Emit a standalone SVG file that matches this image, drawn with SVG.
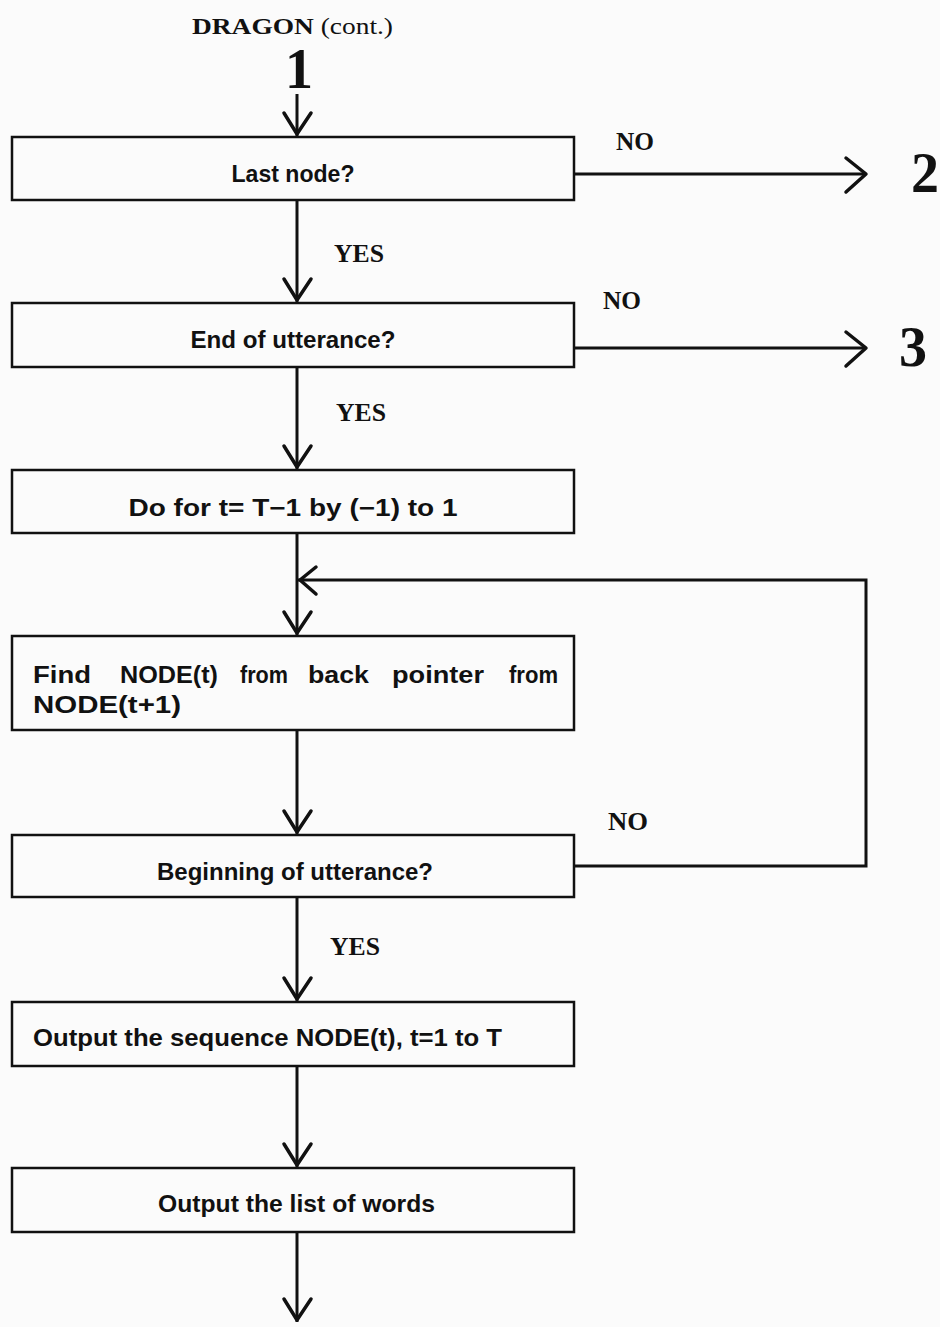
<svg xmlns="http://www.w3.org/2000/svg" width="940" height="1327" viewBox="0 0 940 1327">
<style>
.box{fill:none;stroke:#111;stroke-width:2.5}
.ln{fill:none;stroke:#111;stroke-width:3}
.hd{fill:none;stroke:#111;stroke-width:3.5;stroke-linecap:round;stroke-linejoin:round}
.bt{font-family:"Liberation Sans",Arial,sans-serif;font-weight:bold;font-size:24px;fill:#111}
.lb{font-family:"Liberation Serif","Times New Roman",serif;font-weight:bold;font-size:26px;fill:#111}
.num{font-family:"Liberation Serif","Times New Roman",serif;font-weight:bold;font-size:56px;fill:#111}
</style>
<rect width="940" height="1327" fill="#fbfbfb"/>
<g id="title">
<text x="192" y="34" font-family="Liberation Serif, Times New Roman, serif" font-size="23" fill="#111" textLength="201" lengthAdjust="spacingAndGlyphs"><tspan font-weight="bold">DRAGON</tspan> (cont.)</text>
</g>
<g id="connector-1"><text class="num" x="299" y="88" text-anchor="middle">1</text></g>
<g id="connector-2"><text class="num" x="925" y="192" text-anchor="middle" font-size="52">2</text></g>
<g id="connector-3"><text class="num" x="913" y="366" text-anchor="middle" font-size="52">3</text></g>

<g id="n1"><rect class="box" x="12" y="137" width="562" height="63"/><text class="bt" x="293" y="182" text-anchor="middle" textLength="123" lengthAdjust="spacingAndGlyphs">Last node?</text></g>
<g id="n2"><rect class="box" x="12" y="303" width="562" height="64"/><text class="bt" x="293" y="348" text-anchor="middle" textLength="205" lengthAdjust="spacingAndGlyphs">End of utterance?</text></g>
<g id="n3"><rect class="box" x="12" y="470" width="562" height="63"/><text class="bt" x="293" y="516" text-anchor="middle" textLength="329" lengthAdjust="spacingAndGlyphs">Do for t= T−1 by (−1) to 1</text></g>
<g id="n4"><rect class="box" x="12" y="636" width="562" height="94"/>
<text class="bt" y="683"><tspan x="33" textLength="58" lengthAdjust="spacingAndGlyphs">Find</tspan><tspan x="120" textLength="98" lengthAdjust="spacingAndGlyphs">NODE(t)</tspan><tspan x="240" textLength="48" lengthAdjust="spacingAndGlyphs">from</tspan><tspan x="308" textLength="61" lengthAdjust="spacingAndGlyphs">back</tspan><tspan x="392" textLength="92" lengthAdjust="spacingAndGlyphs">pointer</tspan><tspan x="509" textLength="49" lengthAdjust="spacingAndGlyphs">from</tspan></text>
<text class="bt" x="33" y="713" textLength="148" lengthAdjust="spacingAndGlyphs">NODE(t+1)</text></g>
<g id="n5"><rect class="box" x="12" y="835" width="562" height="62"/><text class="bt" x="295" y="880" text-anchor="middle" textLength="276" lengthAdjust="spacingAndGlyphs">Beginning of utterance?</text></g>
<g id="n6"><rect class="box" x="12" y="1002" width="562" height="64"/><text class="bt" x="33" y="1046" textLength="469" lengthAdjust="spacingAndGlyphs">Output the sequence NODE(t), t=1 to T</text></g>
<g id="n7"><rect class="box" x="12" y="1168" width="562" height="64"/><text class="bt" x="158" y="1212" textLength="277" lengthAdjust="spacingAndGlyphs">Output the list of words</text></g>

<g id="connectors">
<line class="ln" x1="297" y1="94" x2="297" y2="136"/>
<polyline class="hd" points="284,113 297,134 311,113"/>
<line class="ln" x1="297" y1="200" x2="297" y2="302"/>
<polyline class="hd" points="284,279 297,300 311,279"/>
<line class="ln" x1="297" y1="367" x2="297" y2="469"/>
<polyline class="hd" points="284,446 297,467 311,446"/>
<line class="ln" x1="297" y1="533" x2="297" y2="635"/>
<polyline class="hd" points="284,612 297,633 311,612"/>
<line class="ln" x1="297" y1="730" x2="297" y2="834"/>
<polyline class="hd" points="284,811 297,832 311,811"/>
<line class="ln" x1="297" y1="897" x2="297" y2="1001"/>
<polyline class="hd" points="284,978 297,999 311,978"/>
<line class="ln" x1="297" y1="1066" x2="297" y2="1167"/>
<polyline class="hd" points="284,1144 297,1165 311,1144"/>
<line class="ln" x1="297" y1="1232" x2="297" y2="1322"/>
<polyline class="hd" points="284,1299 297,1320 311,1299"/>
<line class="ln" x1="574" y1="174" x2="866" y2="174"/>
<polyline class="hd" points="846,158 866,174 846,192"/>
<text class="lb" x="635" y="150" text-anchor="middle" textLength="38" lengthAdjust="spacingAndGlyphs">NO</text>
<line class="ln" x1="574" y1="348" x2="866" y2="348"/>
<polyline class="hd" points="846,332 866,348 846,366"/>
<text class="lb" x="622" y="309" text-anchor="middle" textLength="38" lengthAdjust="spacingAndGlyphs">NO</text>
<polyline class="ln" points="574,866 866,866 866,580 297,580"/>
<polyline class="hd" points="316,567 300,580 316,594"/>
<text class="lb" x="628" y="830" text-anchor="middle" textLength="40" lengthAdjust="spacingAndGlyphs">NO</text>
<text class="lb" x="359" y="262" text-anchor="middle" textLength="50" lengthAdjust="spacingAndGlyphs">YES</text>
<text class="lb" x="361" y="421" text-anchor="middle" textLength="50" lengthAdjust="spacingAndGlyphs">YES</text>
<text class="lb" x="355" y="955" text-anchor="middle" textLength="50" lengthAdjust="spacingAndGlyphs">YES</text>
</g>
</svg>
